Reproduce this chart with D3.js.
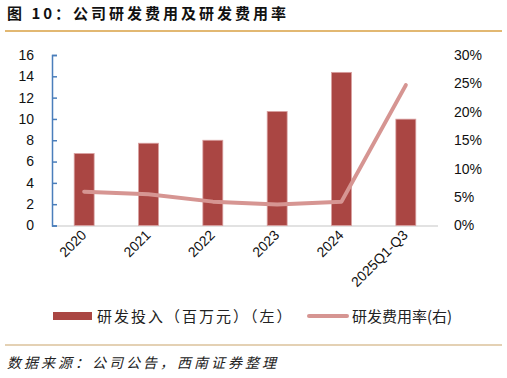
<!DOCTYPE html>
<html><head><meta charset="utf-8">
<script src="https://cdn.jsdelivr.net/npm/d3@7"></script>
<style>
body{margin:0;background:#fff;}
svg{display:block;}
text{font-family:"Liberation Sans","Noto Sans CJK SC",sans-serif;}
</style></head>
<body>
<script>
const categories = ["2020","2021","2022","2023","2024","2025Q1-Q3"];
const rdSpend = [6.75, 7.72, 8.0, 10.7, 14.37, 9.98];
const rdRate = [5.95, 5.5, 4.2, 3.7, 4.2, 24.7];
const leftTicks = [0,2,4,6,8,10,12,14,16];
const rightTicks = [0,5,10,15,20,25,30];

const W=507,H=378;
const svg=d3.select("body").append("svg").attr("width",W).attr("height",H);
const cjk='"Noto Sans CJK SC",sans-serif';

// title
svg.append("text").attr("x",7).attr("y",19).attr("font-size",15).attr("font-weight","bold")
  .style("font-family",cjk).style("letter-spacing","3px").attr("fill","#111").text("图 10：公司研发费用及研发费用率");
svg.append("line").attr("x1",5).attr("x2",502).attr("y1",31).attr("y2",31)
  .attr("stroke","#d9a043").attr("stroke-width",1.5);

const x=d3.scaleBand().domain(categories).range([52,438]).paddingInner(0.69).paddingOuter(0.345);
const yL=d3.scaleLinear().domain([0,16]).range([225.5,55]);
const yR=d3.scaleLinear().domain([0,30]).range([225.5,55]);

// baseline
svg.append("line").attr("x1",52).attr("x2",438).attr("y1",226).attr("y2",226)
  .attr("stroke","#d9d9d9").attr("stroke-width",1.5);

// left axis
const gL=svg.append("g").attr("transform","translate(52,0)")
  .call(d3.axisRight(yL).tickValues(leftTicks).tickSize(5).tickFormat(""));
gL.select(".domain").attr("stroke","#4a7ebb").attr("stroke-width",1.5);
gL.selectAll(".tick line").attr("stroke","#4a7ebb").attr("stroke-width",1.5);
svg.append("g").selectAll("text").data(leftTicks).join("text")
  .attr("x",34).attr("y",d=>yL(d)).attr("dy","0.35em").attr("text-anchor","end")
  .attr("font-size",14).attr("fill","#111").text(d=>d);

// right axis labels
const gR=svg.append("g").attr("transform","translate(454,0)")
  .call(d3.axisRight(yR).tickValues(rightTicks).tickSize(0).tickPadding(0).tickFormat(d=>d+"%"));
gR.select(".domain").remove();
gR.selectAll("text").attr("font-size",14).attr("fill","#111").style("font-family",'"Liberation Sans",sans-serif');

// bars
svg.append("g").selectAll("rect").data(categories).join("rect")
  .attr("x",d=>x(d)).attr("width",x.bandwidth())
  .attr("y",(d,i)=>yL(rdSpend[i])).attr("height",(d,i)=>yL(0)-yL(rdSpend[i]))
  .attr("fill","#aa4643").attr("stroke","#d9a0a0").attr("stroke-width",0.8);

// line
const line=d3.line().x((d,i)=>x(categories[i])+x.bandwidth()/2).y(d=>yR(d));
svg.append("path").datum(rdRate).attr("d",line).attr("fill","none")
  .attr("stroke","#d69592").attr("stroke-width",4).attr("stroke-linecap","round").attr("stroke-linejoin","round");

// x labels
svg.append("g").selectAll("text").data(categories).join("text")
  .attr("transform",d=>`translate(${x(d)+x.bandwidth()/2+3},${236}) rotate(-45)`)
  .attr("text-anchor","end").attr("font-size",14).attr("fill","#111").text(d=>d);

// legend
svg.append("rect").attr("x",53).attr("y",312).attr("width",39).attr("height",8).attr("fill","#aa4643");
svg.append("text").attr("x",97).attr("y",322).attr("font-size",15).style("font-family",cjk)
  .style("letter-spacing","2px").attr("fill","#222").text("研发投入（百万元）（左）");
svg.append("line").attr("x1",309).attr("x2",347).attr("y1",316).attr("y2",316)
  .attr("stroke","#d69592").attr("stroke-width",4).attr("stroke-linecap","round");
svg.append("text").attr("x",352).attr("y",322).attr("font-size",15).style("font-family",cjk)
  .attr("fill","#222").text("研发费用率(右)");

svg.append("line").attr("x1",5).attr("x2",502).attr("y1",345).attr("y2",345)
  .attr("stroke","#c9a36a").attr("stroke-width",1.2);
svg.append("text").attr("x",7).attr("y",368).attr("font-size",14).attr("font-style","italic")
  .style("font-family",cjk).style("letter-spacing","3px").attr("fill","#222").text("数据来源：公司公告，西南证券整理");
</script>
</body></html>
